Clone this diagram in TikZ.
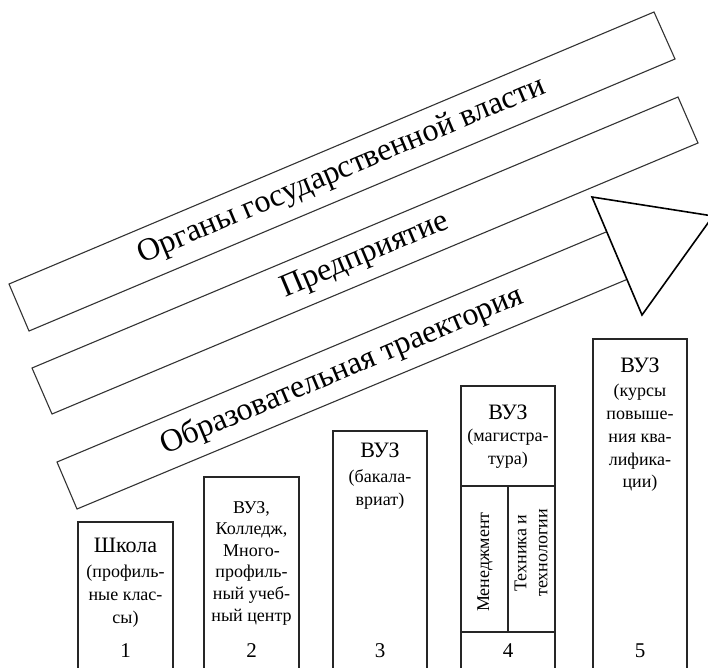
\documentclass[tikz,border=0pt]{standalone}
\usepackage{fontspec}
\setmainfont{Liberation Serif}
\begin{document}
\begin{tikzpicture}[x=1pt,y=-1pt,
  band/.style={draw=black!80,line width=1.1pt,fill=white},
  arrowhead/.style={draw=black,line width=1.6pt,fill=white,line join=miter},
  col/.style={draw=black!85,line width=1.2pt},
  bandtext/.style={rotate=22.86,font=\fontsize{32}{38}\selectfont},
  head/.style={font=\fontsize{22}{26}\selectfont,inner sep=0pt},
  body/.style={align=center,inner sep=0pt},
  numtext/.style={font=\fontsize{21}{25}\selectfont,inner sep=0pt}]
\useasboundingbox (0,0) rectangle (708,667);
% bands
\draw[band] (9,284) -- (29,331) -- (675,59) -- (654,12) -- cycle;
\draw[band] (32,368) -- (52,414) -- (698,143) -- (678,97) -- cycle;
\draw[band] (57,462) -- (77,509) -- (640,274) -- (618,227) -- cycle;
\draw[arrowhead] (592,197) -- (713,216) -- (642,315) -- cycle;
\node[bandtext] (t1) at (342,171) {Органы государственной власти};
\node[bandtext] (t2) at (365,256) {Предприятие};
\node[bandtext] (t3) at (342,371) {Образовательная траектория};
% columns
\draw[col] (78,675) -- (78,522) -- (173,522) -- (173,675);
\draw[col] (204,675) -- (204,477) -- (299,477) -- (299,675);
\draw[col] (333,675) -- (333,431) -- (427,431) -- (427,675);
\draw[col] (461,675) -- (461,386) -- (555,386) -- (555,675);
\draw[col] (461,486) -- (555,486);
\draw[col] (508,486) -- (508,632);
\draw[col] (461,632) -- (555,632);
\draw[col] (593,675) -- (593,339) -- (687,339) -- (687,675);
% column 1
\node[head] (h1) at (125.5,545) {Школа};
\node[body,font=\fontsize{18}{23}\selectfont] (b1) at (125.5,596) {(профиль-\\ные клас-\\сы)};
\node[numtext] (n1) at (125.5,651) {1};
% column 2
\node[body,font=\fontsize{18}{21.6}\selectfont] (b2) at (251.5,563) {ВУЗ,\\Колледж,\\Много-\\профиль-\\ный учеб-\\ный центр};
\node[numtext] (n2) at (251.5,651) {2};
% column 3
\node[head] (h3) at (380,450) {ВУЗ};
\node[body,font=\fontsize{18}{23}\selectfont] (b3) at (380,489) {(бакала-\\вриат)};
\node[numtext] (n3) at (380,651) {3};
% column 4
\node[head] (h4) at (508,412) {ВУЗ};
\node[body,font=\fontsize{18}{23}\selectfont] (b4) at (508,449) {(магистра-\\тура)};
\node[body,rotate=90,font=\fontsize{18}{21}\selectfont] (m4) at (485,562) {Менеджмент};
\node[body,rotate=90,font=\fontsize{18}{21}\selectfont] (k4) at (531,553) {Техника и\\технологии};
\node[numtext] (n4) at (508,651) {4};
% column 5
\node[head] (h5) at (640,365) {ВУЗ};
\node[body,font=\fontsize{18}{22.75}\selectfont] (b5) at (640,438) {(курсы\\повыше-\\ния ква-\\лифика-\\ции)};
\node[numtext] (n5) at (640,651) {5};
\end{tikzpicture}
\end{document}
